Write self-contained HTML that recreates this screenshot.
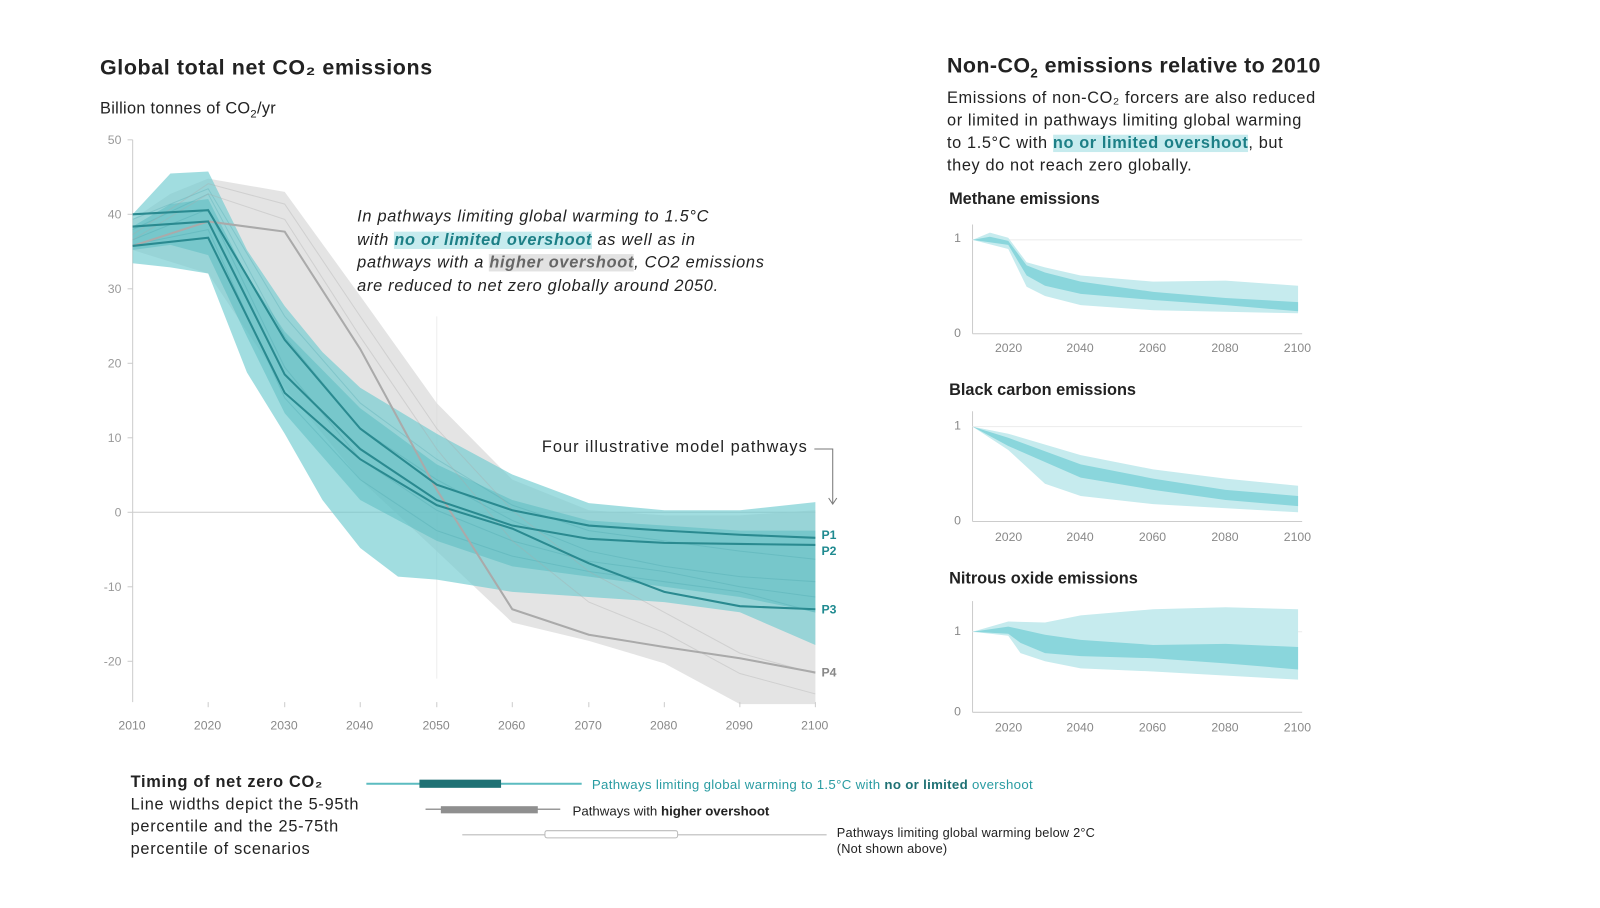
<!DOCTYPE html>
<html><head><meta charset="utf-8">
<style>
html,body{margin:0;padding:0;background:#fff;width:1600px;height:908px;overflow:hidden}
#w{position:absolute;left:0;top:0;width:1568px;height:890px;transform:scale(1.0205);transform-origin:0 0;font-family:"Liberation Sans",sans-serif;color:#222}
.t{position:absolute;white-space:nowrap}
svg{position:absolute;left:0;top:0}
.hl{background:#c6ebee;color:#1c7f86;font-weight:bold}
.hg{background:#e2e2e2;color:#666;font-weight:bold}
</style></head><body><div id="w">
<svg width="1568" height="890" viewBox="0 0 1568 890">
<line x1="130" y1="137" x2="130" y2="688" stroke="#ccc"/>
<g stroke="#ccc"><line x1="125" y1="137" x2="130" y2="137"/><line x1="125" y1="210" x2="130" y2="210"/><line x1="125" y1="283" x2="130" y2="283"/><line x1="125" y1="356" x2="130" y2="356"/><line x1="125" y1="429" x2="130" y2="429"/><line x1="125" y1="502" x2="130" y2="502"/><line x1="125" y1="575" x2="130" y2="575"/><line x1="125" y1="648" x2="130" y2="648"/></g>
<line x1="130" y1="502" x2="799" y2="502" stroke="#ccc"/>
<line x1="428" y1="310" x2="428" y2="665" stroke="#eee"/>
<polygon fill="#d9d9d9" fill-opacity="0.7" points="130,215 167,190 204,175 279,188 353,290 428,395 502,470 577,500 651,505 725,505 799,500 799,690 725,690 651,650 577,628 502,610 428,540 353,470 279,380 204,268 130,245"/>
<polygon fill="#6fcbcf" fill-opacity="0.65" points="130,210 167,170 204,168 242,245 279,300 316,345 353,380 428,425 502,465 577,493 651,500 725,500 799,492 799,632 725,600 651,590 577,585 502,580 428,568 390,565 353,537 316,490 279,425 242,365 204,268 167,262 130,258"/>
<polygon fill="#4fb8bd" fill-opacity="0.45" points="130,222 167,200 204,195 242,270 279,325 353,400 428,455 502,490 577,510 651,515 725,520 799,520 799,600 725,585 651,575 577,565 502,555 428,530 353,490 279,405 242,330 204,250 167,240 130,245"/>
<g fill="none" stroke="#3a9da3" stroke-opacity="0.25" stroke-width="1">
<polyline points="130,225 204,190 279,330 353,420 428,470 502,510 577,540 651,555 725,565 799,570"/>
<polyline points="130,235 204,205 279,360 353,450 428,500 502,530 577,550 651,560 725,575 799,585"/>
<polyline points="130,240 204,225 279,390 353,470 428,520 502,545 577,560 651,570 725,580 799,600"/>
<polyline points="130,215 204,185 279,310 353,395 428,450 502,495 577,520 651,530 725,540 799,548"/>
</g>
<g fill="none" stroke="#aaa" stroke-opacity="0.35"><polyline points="130,230 204,180 279,200 353,310 428,420 502,500 577,560 651,600 725,640 799,660"/><polyline points="130,235 204,190 279,215 353,330 428,440 502,530 577,590 651,620 725,660 799,680"/></g>
<polyline fill="none" stroke="#aaa" stroke-width="2" points="130,241 204,217 279,227 353,342 428,480 502,597 577,622 651,634 725,645 799,659"/>
<g fill="none" stroke="#2a8a90" stroke-width="2">
<polyline points="130,210 204,206 279,333 353,420 428,475 502,500 577,515 651,520 725,524 799,527"/>
<polyline points="130,222 204,217 279,367 353,440 428,490 502,515 577,528 651,532 725,533 799,534"/>
<polyline points="130,241 204,233 279,385 353,450 428,495 502,518 577,552 651,580 725,594 799,597"/>
</g>
<polyline fill="none" stroke="#777" points="798,440 816,440 816,493"/><polyline fill="none" stroke="#777" points="812,488 816,494 820,488"/>
<g stroke="#ccc"><line x1="204" y1="688" x2="204" y2="693"/><line x1="279" y1="688" x2="279" y2="693"/><line x1="353" y1="688" x2="353" y2="693"/><line x1="428" y1="688" x2="428" y2="693"/><line x1="502" y1="688" x2="502" y2="693"/><line x1="577" y1="688" x2="577" y2="693"/><line x1="651" y1="688" x2="651" y2="693"/><line x1="725" y1="688" x2="725" y2="693"/><line x1="799" y1="688" x2="799" y2="693"/></g>

<g stroke="#ccc">
<line x1="953" y1="220" x2="953" y2="327"/><line x1="953" y1="327" x2="1276" y2="327"/><line x1="953" y1="235" x2="1276" y2="235" stroke="#eee"/>
<line x1="953" y1="403" x2="953" y2="511"/><line x1="953" y1="511" x2="1276" y2="511"/><line x1="953" y1="418" x2="1276" y2="418" stroke="#eee"/>
<line x1="953" y1="589" x2="953" y2="698"/><line x1="953" y1="698" x2="1276" y2="698"/><line x1="953" y1="619" x2="1276" y2="619" stroke="#eee"/>
</g>
<polygon fill="#c6ebee" points="953,235 970,228 988,233 1006,257 1024,262 1059,270 1130,276 1201,275 1272,280 1272,307 1130,304 1059,299 1024,290 1006,281 988,244 953,235"/>
<polygon fill="#8ad6dc" points="953,235 970,232 988,236 1006,260 1024,267 1059,276 1130,286 1201,292 1272,296 1272,305 1201,299 1130,294 1059,288 1024,280 1006,270 988,240 953,235"/>
<polygon fill="#c6ebee" points="953,418 988,425 1059,446 1130,460 1201,469 1272,476 1272,502 1130,494 1059,486 1024,474 988,441 953,418"/>
<polygon fill="#8ad6dc" points="953,418 988,429 1059,455 1130,469 1201,480 1272,486 1272,496 1201,490 1130,480 1059,468 988,437 953,418"/>
<polygon fill="#c6ebee" points="953,619 988,609 1024,610 1059,603 1130,597 1201,595 1272,597 1272,666 1130,658 1059,655 1024,648 1000,640 988,623 953,619"/>
<polygon fill="#8ad6dc" points="953,619 988,614 1024,622 1059,627 1130,632 1201,631 1272,634 1272,656 1201,650 1130,645 1059,643 1024,640 1000,630 988,621 953,619"/>

<line x1="359" y1="768" x2="570" y2="768" stroke="#5cbcc0" stroke-width="2"/>
<rect x="411" y="764" width="80" height="8" fill="#1f7174"/>
<line x1="417" y1="793" x2="549" y2="793" stroke="#999" stroke-width="1.5"/>
<rect x="432" y="790" width="95" height="7" fill="#8f8f8f"/>
<line x1="453" y1="818" x2="810" y2="818" stroke="#ccc" stroke-width="1.5"/>
<rect x="534" y="814" width="130" height="7" rx="2" fill="#fff" stroke="#bbb"/>
</svg>

<div class="t" style="left:98px;top:55px;font-size:21px;font-weight:bold;letter-spacing:0.6px">Global total net CO₂ emissions</div>
<div class="t" style="left:98px;top:98px;font-size:16px;letter-spacing:0.3px">Billion tonnes of CO<sub style="font-size:11px">2</sub>/yr</div>
<div style="position:absolute;left:95px;top:0;width:24px;font-size:12px;color:#999;text-align:right">
<div class="t" style="right:0;top:130px">50</div><div class="t" style="right:0;top:203px">40</div><div class="t" style="right:0;top:276px">30</div><div class="t" style="right:0;top:349px">20</div><div class="t" style="right:0;top:422px">10</div><div class="t" style="right:0;top:495px">0</div><div class="t" style="right:0;top:568px">-10</div><div class="t" style="right:0;top:641px">-20</div></div>
<div style="font-size:12px;color:#888">
<div class="t" style="left:116px;top:704px">2010</div><div class="t" style="left:190px;top:704px">2020</div><div class="t" style="left:265px;top:704px">2030</div><div class="t" style="left:339px;top:704px">2040</div><div class="t" style="left:414px;top:704px">2050</div><div class="t" style="left:488px;top:704px">2060</div><div class="t" style="left:563px;top:704px">2070</div><div class="t" style="left:637px;top:704px">2080</div><div class="t" style="left:711px;top:704px">2090</div><div class="t" style="left:785px;top:704px">2100</div></div>
<div class="t" style="left:350px;top:202px;font-size:16px;font-style:italic;line-height:22.5px;letter-spacing:0.7px">In pathways limiting global warming to 1.5°C<br>with <span class="hl">no or limited overshoot</span> as well as in<br>pathways with a <span class="hg">higher overshoot</span>, CO2 emissions<br>are reduced to net zero globally around 2050.</div>
<div class="t" style="left:531px;top:430px;font-size:16px;letter-spacing:1px">Four illustrative model pathways</div>
<div style="font-size:12px;font-weight:bold;color:#1f8a90">
<div class="t" style="left:805px;top:517px">P1</div><div class="t" style="left:805px;top:533px">P2</div><div class="t" style="left:805px;top:590px">P3</div><div class="t" style="left:805px;top:652px;color:#888">P4</div></div>

<div class="t" style="left:928px;top:53px;font-size:21px;font-weight:bold;letter-spacing:0.4px">Non-CO<sub style="font-size:13px">2</sub> emissions relative to 2010</div>
<div class="t" style="left:928px;top:86px;font-size:16px;line-height:22px;letter-spacing:0.6px">Emissions of non-CO₂ forcers are also reduced<br>or limited in pathways limiting global warming<br>to 1.5°C with <span class="hl">no or limited overshoot</span>, but<br>they do not reach zero globally.</div>
<div class="t" style="left:930px;top:187px;font-size:16px;font-weight:bold">Methane emissions</div>
<div class="t" style="left:930px;top:374px;font-size:16px;font-weight:bold">Black carbon emissions</div>
<div class="t" style="left:930px;top:559px;font-size:16px;font-weight:bold">Nitrous oxide emissions</div>
<div style="font-size:12px;color:#888">
<div class="t" style="left:935px;top:226px">1</div><div class="t" style="left:935px;top:319px">0</div>
<div class="t" style="left:935px;top:410px">1</div><div class="t" style="left:935px;top:503px">0</div>
<div class="t" style="left:935px;top:611px">1</div><div class="t" style="left:935px;top:690px">0</div>
<div class="t" style="left:975px;top:334px">2020</div><div class="t" style="left:1045px;top:334px">2040</div><div class="t" style="left:1116px;top:334px">2060</div><div class="t" style="left:1187px;top:334px">2080</div><div class="t" style="left:1258px;top:334px">2100</div>
<div class="t" style="left:975px;top:519px">2020</div><div class="t" style="left:1045px;top:519px">2040</div><div class="t" style="left:1116px;top:519px">2060</div><div class="t" style="left:1187px;top:519px">2080</div><div class="t" style="left:1258px;top:519px">2100</div>
<div class="t" style="left:975px;top:706px">2020</div><div class="t" style="left:1045px;top:706px">2040</div><div class="t" style="left:1116px;top:706px">2060</div><div class="t" style="left:1187px;top:706px">2080</div><div class="t" style="left:1258px;top:706px">2100</div></div>

<div class="t" style="left:128px;top:756px;font-size:16px;line-height:22px;letter-spacing:0.7px"><b>Timing of net zero CO₂</b><br>Line widths depict the 5-95th<br>percentile and the 25-75th<br>percentile of scenarios</div>
<div class="t" style="left:580px;top:761px;font-size:13px;color:#2a9ca2;letter-spacing:0.3px">Pathways limiting global warming to 1.5°C with <b style="color:#1f7174">no or limited</b> overshoot</div>
<div class="t" style="left:561px;top:787px;font-size:13px">Pathways with <b>higher overshoot</b></div>
<div class="t" style="left:820px;top:808px;font-size:12.5px;line-height:16px;letter-spacing:0.2px">Pathways limiting global warming below 2°C<br>(Not shown above)</div>
</div></body></html>
